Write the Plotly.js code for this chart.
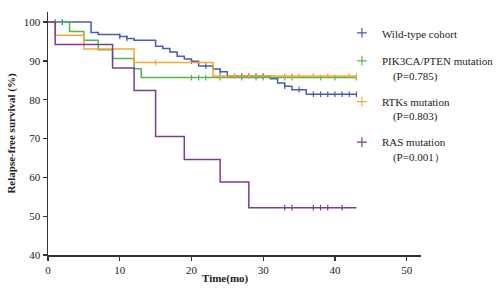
<!DOCTYPE html>
<html>
<head>
<meta charset="utf-8">
<script src="https://cdn.plot.ly/plotly-3.0.1.min.js"></script>
<style>html,body{margin:0;padding:0;background:#fff;}#chart{width:500px;height:293px;}</style>
</head>
<body>
<div id="chart"></div>
<script>
// Kaplan-Meier step data (time in months, survival in %)
const wildTimes = [0, 6, 7, 10, 11, 12, 15, 16, 17, 18, 19, 20, 21, 23, 24, 25, 31, 32, 33, 34, 36, 43];
const wildSurv  = [100, 97.3, 96.8, 96.3, 95.8, 95.3, 93.8, 93.2, 92.3, 91.2, 90.5, 89.9, 88.7, 87.9, 87.2, 86.1, 85.4, 84.3, 83.5, 82.6, 81.4, 81.4];
const wildCens  = [1, 2, 10, 11, 20, 22, 24, 26, 27, 28, 29, 30, 33, 35, 37, 38, 39, 40, 41, 42, 43];

const pikTimes = [0, 3, 5, 7, 9, 12, 13, 43];
const pikSurv  = [100, 97.6, 95.3, 92.9, 90.6, 88.0, 85.7, 85.7];
const pikCens  = [20, 21, 22, 24, 27, 29, 30, 33, 34, 38, 40, 43];

const rtkTimes = [0, 1, 5, 12, 23, 43];
const rtkSurv  = [100, 96.6, 93.1, 89.6, 86.1, 86.1];
const rtkCens  = [15, 24, 26, 28, 33, 34, 35, 37, 39, 42, 43];

const rasTimes = [0, 1, 9, 12, 15, 19, 24, 28, 43];
const rasSurv  = [100, 94.2, 88.2, 82.4, 70.5, 64.6, 58.8, 52.2, 52.2];
const rasCens  = [33, 34, 37, 38, 39, 41];

const seriesNames = [
  "Wild-type cohort",
  "PIK3CA/PTEN mutation<br>\u00a0\u00a0\u00a0\u00a0(P=0.785)",
  "RTKs mutation<br>\u00a0\u00a0\u00a0\u00a0(P=0.803)",
  "RAS mutation<br>\u00a0\u00a0\u00a0\u00a0(P=0.001\uff09"
];
const colors = ["#4a5cad", "#52b552", "#f5a733", "#7d3c8e"];

const xTicks = [0, 10, 20, 30, 40, 50];
const yTicks = [40, 50, 60, 70, 80, 90, 100];

function stepAt(times, surv, t) {
  let v = surv[0];
  for (let i = 0; i < times.length; i++) { if (times[i] <= t) v = surv[i]; }
  return v;
}

const groups = [
  [wildTimes, wildSurv, wildCens],
  [pikTimes, pikSurv, pikCens],
  [rtkTimes, rtkSurv, rtkCens],
  [rasTimes, rasSurv, rasCens]
];

const traces = [];
groups.forEach((g, i) => {
  traces.push({
    x: g[0], y: g[1], type: 'scatter', mode: 'lines',
    line: {shape: 'hv', color: colors[i], width: 1.5},
    showlegend: false, hoverinfo: 'skip'
  });
  traces.push({
    x: g[2], y: g[2].map(t => stepAt(g[0], g[1], t)), type: 'scatter', mode: 'markers',
    marker: {symbol: 'line-ns-open', size: 4, color: colors[i], line: {color: colors[i], width: 1.2}},
    showlegend: false, hoverinfo: 'skip'
  });
});
// legend entries
groups.forEach((g, i) => {
  traces.push({
    x: [null], y: [null], type: 'scatter', mode: 'markers', name: seriesNames[i],
    legendgroup: 'g' + i,
    marker: {symbol: 'cross-thin-open', size: 7, color: colors[i], line: {color: colors[i], width: 1.2}}
  });
});

const font = {family: '"Liberation Serif", "Times New Roman", serif', size: 11, color: '#222'};

const layout = {
  width: 500, height: 293,
  margin: {l: 48, r: 79, t: 12, b: 38, autoexpand: false},
  paper_bgcolor: '#fff', plot_bgcolor: '#fff',
  font: font,
  showlegend: true,
  legend: {
    x: 0.788, xanchor: 'left', y: 0.97, yanchor: 'top', valign: 'top',
    bgcolor: 'rgba(0,0,0,0)', font: font, tracegroupgap: 9,
    itemclick: false, itemdoubleclick: false
  },
  xaxis: {
    range: [0, 52], tickvals: xTicks, ticktext: xTicks.map(String),
    showgrid: false, zeroline: false, showline: true, linecolor: '#333', linewidth: 1.5,
    ticks: 'outside', ticklen: 4, tickwidth: 1.2, tickcolor: '#333',
    tickfont: font, fixedrange: true
  },
  yaxis: {
    range: [40, 102.6], tickvals: yTicks, ticktext: yTicks.map(String),
    showgrid: false, zeroline: false, showline: true, linecolor: '#333', linewidth: 1.5,
    ticks: 'outside', ticklen: 4, tickwidth: 1.2, tickcolor: '#333',
    tickfont: font, fixedrange: true,
    title: {text: '<b>Relapse-free survival (%)</b>', font: font, standoff: 6}
  },
  annotations: [{
    text: '<b>Time(mo)</b>', xref: 'paper', yref: 'paper',
    x: 0.477, y: -0.095, xanchor: 'center', yanchor: 'middle',
    showarrow: false, font: font
  }]
};

Plotly.newPlot('chart', traces, layout, {displayModeBar: false, staticPlot: true});
</script>
</body>
</html>
